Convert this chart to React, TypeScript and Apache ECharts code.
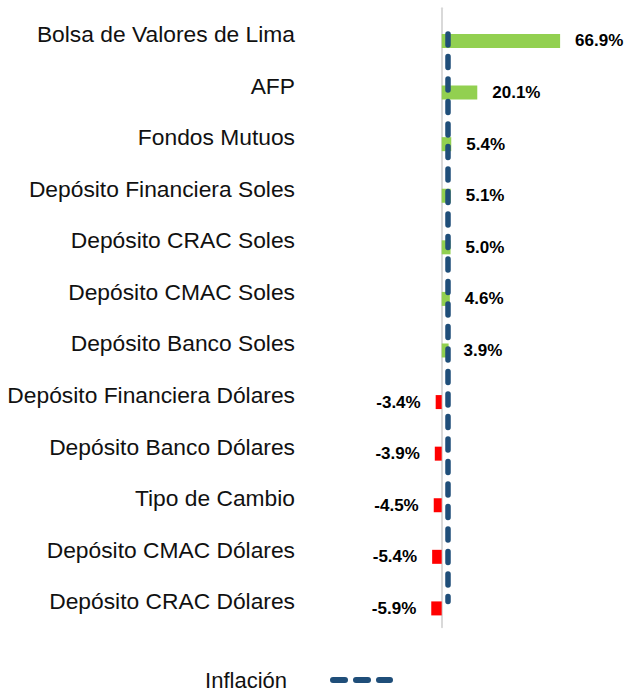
import React, { useEffect, useRef } from "react";
import * as echarts from "echarts";

const categories = [
  "Bolsa de Valores de Lima",
  "AFP",
  "Fondos Mutuos",
  "Depósito Financiera Soles",
  "Depósito CRAC Soles",
  "Depósito CMAC Soles",
  "Depósito Banco Soles",
  "Depósito Financiera Dólares",
  "Depósito Banco Dólares",
  "Tipo de Cambio",
  "Depósito CMAC Dólares",
  "Depósito CRAC Dólares",
];
const returns = [66.9, 20.1, 5.4, 5.1, 5.0, 4.6, 3.9, -3.4, -3.9, -4.5, -5.4, -5.9];
const inflation = 3.6;
const inflationLabel = "Inflación";

const FONT = "'Liberation Sans', Arial, sans-serif";

export default function App() {
  const ref = useRef<HTMLDivElement>(null);
  useEffect(() => {
    document.body.style.margin = "0";
    if (!ref.current) return;
    const chart = echarts.init(ref.current, undefined, { renderer: "svg" });
    chart.setOption({
      animation: false,
      backgroundColor: "#ffffff",
      grid: {
        left: 424,
        right: 25,
        top: 8.2,
        bottom: 63.8,
        containLabel: false,
        outerBoundsMode: "none",
      },
      xAxis: {
        type: "value",
        min: -10,
        max: 90,
        show: false,
      },
      yAxis: {
        type: "category",
        data: categories,
        inverse: true,
        axisTick: { show: false },
        axisLine: { show: true, onZero: true, lineStyle: { color: "#d9d9d9", width: 2 } },
        axisLabel: {
          margin: 129,
          fontSize: 22.8,
          fontFamily: FONT,
          color: "#111111",
        },
        splitLine: { show: false },
      },
      series: [
        {
          type: "bar",
          name: "spacer",
          barWidth: 14,
          barGap: "0%",
          data: [],
          silent: true,
        },
        {
          type: "bar",
          name: "Rentabilidad",
          barWidth: 14,
          barGap: "0%",
          data: returns.map((v) => ({
            value: v,
            itemStyle: { color: v >= 0 ? "#92d050" : "#ff0000" },
            label: { position: v >= 0 ? "right" : "left" },
          })),
          label: {
            show: true,
            distance: 15,
            fontSize: 17,
            fontWeight: "bold",
            fontFamily: FONT,
            color: "#000000",
            formatter: (p: any) => p.value.toFixed(1) + "%",
          },
          z: 2,
        },
        {
          type: "line",
          name: inflationLabel,
          data: [],
          z: 5,
          markLine: {
            silent: true,
            symbol: "none",
            label: { show: false },
            lineStyle: {
              color: "#1f4e79",
              width: 5.5,
              type: [11, 11.5],
              cap: "round",
            },
            data: [
              [
                { coord: [inflation, categories[0]] },
                { coord: [inflation, categories[categories.length - 1]] },
              ],
            ],
          },
        },
      ],
      graphic: [
        {
          type: "text",
          x: 287,
          y: 680,
          style: {
            text: inflationLabel,
            fontSize: 22,
            fontFamily: FONT,
            fill: "#111111",
            align: "right",
            verticalAlign: "middle",
          },
        },
        {
          type: "line",
          shape: { x1: 333, y1: 680, x2: 390, y2: 680 },
          style: {
            stroke: "#1f4e79",
            lineWidth: 6,
            lineDash: [12, 11],
            lineCap: "round",
          },
        },
      ],
    });
    return () => chart.dispose();
  }, []);
  return <div ref={ref} style={{ width: 626, height: 691 }} />;
}
